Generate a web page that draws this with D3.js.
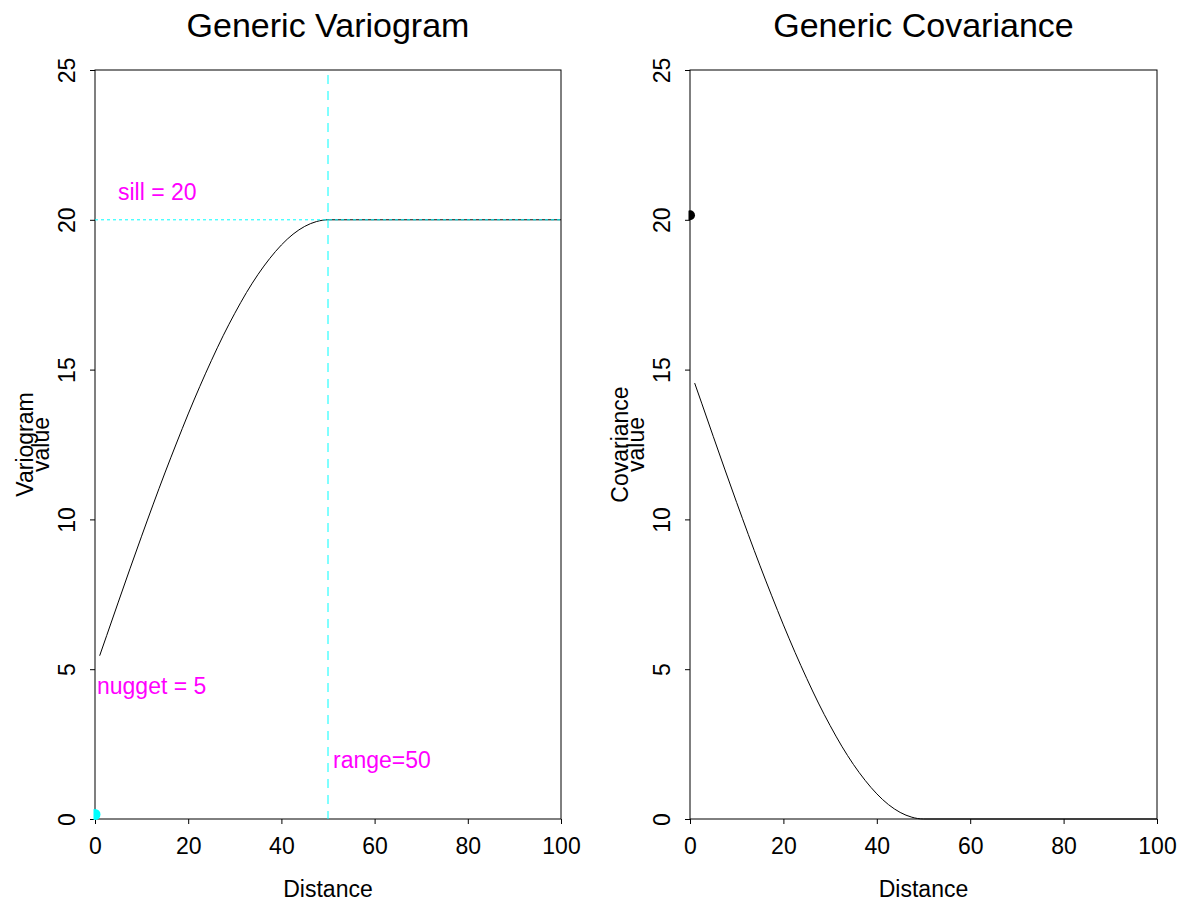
<!DOCTYPE html>
<head>
  <meta charset="utf-8">
  <script src="https://d3js.org/d3.v7.min.js"></script>
  <style>
    body { margin: 0; background: #fff; }
    svg text { font-family: "Liberation Sans", Arial, Helvetica, sans-serif; fill: #000; }
  </style>
</head>
<body>
  <svg id="chart" width="1179" height="903"></svg>
  <script>

    // distances and model values
    const distances = [1, 2.5, 5, 7.5, 10, 12.5, 15, 17.5, 20, 22.5, 25, 27.5, 30, 32.5, 35, 37.5, 40, 42.5, 45, 47.5, 50, 100];
    const variogramValues = [5.45, 6.12, 7.24, 8.35, 9.44, 10.51, 11.55, 12.55, 13.52, 14.44, 15.31, 16.13, 16.88, 17.57, 18.18, 18.71, 19.16, 19.52, 19.78, 19.94, 20, 20];
    const covarianceValues = [14.55, 13.88, 12.76, 11.65, 10.56, 9.49, 8.45, 7.45, 6.48, 5.56, 4.69, 3.87, 3.12, 2.43, 1.82, 1.29, 0.84, 0.48, 0.22, 0.06, 0, 0];

    const variogramPoint = [0, 0.15];
    const covariancePoint = [0, 20.15];

    const xTicks = [0, 20, 40, 60, 80, 100];
    const yTicks = [0, 5, 10, 15, 20, 25];

    const sill = 20, nugget = 5, range = 50;

    const svg = d3.select('#chart');
    const plotTop = 70, plotBottom = 819;

    function panel(opts) {
      const x = d3.scaleLinear().domain([0, 100]).range([opts.left, opts.right]);
      const y = d3.scaleLinear().domain([0, 25]).range([plotBottom, plotTop]);
      const g = svg.append('g');

      g.append('clipPath').attr('id', opts.id + '-clip')
        .append('rect')
        .attr('x', opts.left - 1.5).attr('y', plotTop - 1.5)
        .attr('width', opts.right - opts.left + 3).attr('height', plotBottom - plotTop + 3);

      // axes
      const xAxis = g.append('g').attr('transform', `translate(0,${plotBottom})`)
        .call(d3.axisBottom(x).tickValues(xTicks).tickSize(5).tickSizeOuter(0).tickPadding(14));
      const yAxis = g.append('g').attr('transform', `translate(${opts.left},0)`)
        .call(d3.axisLeft(y).tickValues(yTicks).tickSize(5).tickSizeOuter(0));
      [xAxis, yAxis].forEach(a => {
        a.selectAll('path, line').attr('stroke', '#000');
        a.selectAll('text').style('font-size', '23px').attr('fill', '#000');
      });
      xAxis.select('.domain').remove();
      yAxis.select('.domain').remove();
      yAxis.selectAll('text')
        .attr('x', null).attr('dy', null)
        .attr('text-anchor', 'middle')
        .attr('transform', 'translate(-20,0) rotate(-90)');

      // box
      g.append('rect')
        .attr('x', opts.left).attr('y', plotTop)
        .attr('width', opts.right - opts.left).attr('height', plotBottom - plotTop)
        .attr('fill', 'none').attr('stroke', '#000');

      // titles
      g.append('text')
        .attr('x', (opts.left + opts.right) / 2).attr('y', 37)
        .attr('text-anchor', 'middle').style('font-size', '34px')
        .text(opts.title);
      g.append('text')
        .attr('x', (opts.left + opts.right) / 2).attr('y', 897)
        .attr('text-anchor', 'middle').style('font-size', '23px')
        .text('Distance');
      const yl = g.append('text')
        .attr('transform', `translate(${opts.left - 46},${(plotTop + plotBottom) / 2}) rotate(-90)`)
        .attr('text-anchor', 'middle').style('font-size', '23px');
      yl.append('tspan').attr('x', 0).attr('y', -16).text(opts.ylab);
      yl.append('tspan').attr('x', 0).attr('y', 0).text('value');

      const plot = g.append('g').attr('clip-path', `url(#${opts.id}-clip)`);
      return { x, y, g, plot };
    }

    // left: variogram
    const L = panel({ id: 'vario', left: 95, right: 561, title: 'Generic Variogram', ylab: 'Variogram' });
    const lineL = d3.line().x((d, i) => L.x(distances[i])).y(d => L.y(d)).curve(d3.curveMonotoneX);
    L.plot.append('path').datum(variogramValues)
      .attr('d', lineL).attr('fill', 'none').attr('stroke', '#000').attr('stroke-width', 1);
    L.plot.append('line')
      .attr('x1', L.x(0)).attr('x2', L.x(100)).attr('y1', L.y(sill)).attr('y2', L.y(sill))
      .attr('stroke', '#00ffff').attr('stroke-dasharray', '3,3');
    L.plot.append('line')
      .attr('x1', L.x(range)).attr('x2', L.x(range)).attr('y1', plotTop).attr('y2', plotBottom)
      .attr('stroke', '#00ffff').attr('stroke-dasharray', '9,7').attr('stroke-dashoffset', 11);
    L.plot.append('circle')
      .attr('cx', L.x(variogramPoint[0])).attr('cy', L.y(variogramPoint[1])).attr('r', 5.5)
      .attr('fill', '#00ffff');
    const ann = [
      { x: 118, y: 200, t: 'sill = ' + sill },
      { x: 97, y: 694, t: 'nugget = ' + nugget },
      { x: 333, y: 768, t: 'range=' + range }
    ];
    L.g.selectAll('.ann').data(ann).enter().append('text')
      .attr('class', 'ann')
      .attr('x', d => d.x).attr('y', d => d.y)
      .style('font-size', '23px').style('fill', '#ff00ff')
      .text(d => d.t);

    // right: covariance
    const R = panel({ id: 'cov', left: 690, right: 1157, title: 'Generic Covariance', ylab: 'Covariance' });
    const lineR = d3.line().x((d, i) => R.x(distances[i])).y(d => R.y(d)).curve(d3.curveMonotoneX);
    R.plot.append('path').datum(covarianceValues)
      .attr('d', lineR).attr('fill', 'none').attr('stroke', '#000').attr('stroke-width', 1);
    R.plot.append('circle')
      .attr('cx', R.x(covariancePoint[0])).attr('cy', R.y(covariancePoint[1])).attr('r', 5)
      .attr('fill', '#000');

  </script>
</body>
